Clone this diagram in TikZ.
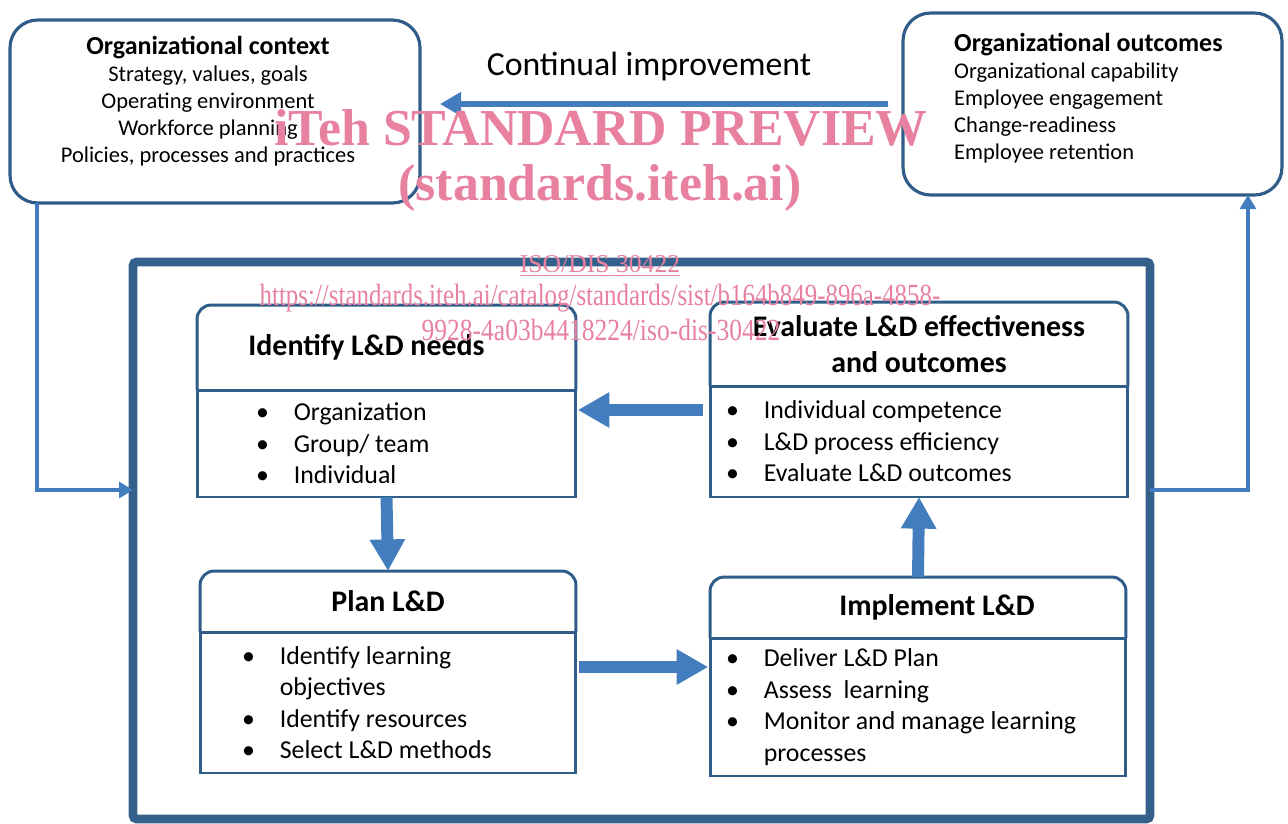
\documentclass[tikz,border=0pt]{standalone}
\usepackage{fontspec}
\setmainfont{Carlito}
\newfontfamily\wmfont{Liberation Serif}
\usetikzlibrary{arrows.meta,positioning,calc}
\definecolor{frameblue}{RGB}{52,96,140}
\definecolor{boxblue}{RGB}{47,92,137}
\definecolor{arrowblue}{RGB}{68,125,190}
\definecolor{wmpink}{RGB}{232,128,160}
\newcommand{\bul}{\makebox[21.5pt][l]{\textbullet}}
\newcommand{\ind}{\hspace*{21.5pt}}

\begin{document}
\begin{tikzpicture}[x=0.02cm,y=-0.02cm,
  topbox/.style={draw=boxblue,line width=1.8pt,rounded corners=0.55cm,outer sep=0pt},
  head/.style={outer sep=0pt,inner sep=0pt,align=center,
    font=\fontsize{17}{20.4}\selectfont\bfseries},
  headline/.style={boxblue,line width=1.7pt,rounded corners=8pt},
  body/.style={draw=boxblue,line width=1.7pt,outer sep=0pt,inner ysep=2pt,
    align=flush left,font=\fontsize{14.7}{17.9}\selectfont},
  flow/.style={arrowblue,line width=6.8pt,-{Triangle[length=18pt,width=19pt]}},
  link/.style={arrowblue,line width=2.3pt,-{Triangle[length=8pt,width=9pt]}},
  wm/.style={text=wmpink,inner sep=0pt}]
\useasboundingbox (0,0) rectangle (1288,823);

\node[draw=frameblue,line width=5pt,rounded corners=2pt,outer sep=0pt,
  minimum width=20.34cm,minimum height=11.14cm] (lnd) at (641.5,540.5) {};

\node[topbox,minimum width=8.2cm,minimum height=3.66cm] (ctx) at (215,111.5) {};
\node[align=center,font=\fontsize{12.8}{15.3}\selectfont] (ctxtext) at (208,101) {
{\fontsize{14.8}{15.3}\selectfont\bfseries Organizational context}\\
Strategy, values, goals\\
Operating environment\\
Workforce planning\\
Policies, processes and practices
};

\node[topbox,minimum width=7.58cm,minimum height=3.64cm] (oc) at (1092.5,104) {};
\node[align=left,anchor=west,font=\fontsize{12.8}{15.3}\selectfont] (octext) at (948,98) {
{\fontsize{14.8}{15.3}\selectfont\bfseries Organizational outcomes}\\
Organizational capability\\
Employee engagement\\
Change-readiness\\
Employee retention
};

\node[font=\fontsize{19.2}{22}\selectfont] (ci) at (649,66) {Continual improvement};

\node[body,text width=5.22cm,inner xsep=1.18cm,minimum height=2.14cm] (idb) at (386.5,443.5) {
\bul Organization\\
\bul Group/ team\\
\bul Individual
};
\node[head,minimum width=7.58cm,minimum height=1.7cm,above=0pt of idb] (idh) {Identify L\&D needs\hspace*{0.8cm}};

\node[body,text width=7.72cm,inner xsep=0.32cm,minimum height=2.22cm] (evb) at (919,441.5) {
\bul Individual competence\\
\bul L\&D process efficiency\\
\bul Evaluate L\&D outcomes
};
\node[head,minimum width=8.36cm,minimum height=1.68cm,above=0pt of evb] (evh) {Evaluate L\&D effectiveness\\and outcomes};

\node[body,text width=5.84cm,inner xsep=0.84cm,minimum height=2.82cm] (plb) at (388,702.5) {
\bul Identify learning\\
\ind objectives\\
\bul Identify resources\\
\bul Select L\&D methods
};
\node[head,minimum width=7.52cm,minimum height=1.22cm,above=0pt of plb] (plh) {Plan L\&D};

\node[body,text width=7.68cm,inner xsep=0.32cm,minimum height=2.76cm] (imb) at (918,707) {
\bul Deliver L\&D Plan\\
\bul Assess\ \ learning\\
\bul Monitor and manage learning\\
\ind processes
};
\node[head,minimum width=8.32cm,minimum height=1.22cm,above=0pt of imb] (imh) {\hspace*{0.76cm}Implement L\&D};

\foreach \h in {idh,evh,plh,imh}
  \draw[headline] (\h.south west) |- (\h.north east) -- (\h.south east);

\draw[flow] ([yshift=0.63cm,xshift=-4pt]evb.west) -- ([yshift=0.63cm,xshift=1pt]evb.west -| idb.east);
\draw[flow] (idb.south) -- (plh.north);
\draw[flow] ([yshift=0.71cm,xshift=2pt]plb.east) -- ([yshift=0.71cm,xshift=-1pt]plb.east -| imb.west);
\draw[flow] (imh.north) -- (evb.south);

\draw[arrowblue,line width=3.6pt,-{Triangle[length=12pt,width=13pt]}]
  ([xshift=-0.3cm]oc.west) -- ([xshift=0.4cm]ctx.east |- oc.west);
\draw[link] ([xshift=0.54cm]ctx.south west) |- ([yshift=1.01cm]lnd.west);
\draw[link] ([yshift=1.01cm]lnd.east) -| ([xshift=3.11cm]oc.south);

\node[wm,font=\wmfont\bfseries\fontsize{29.5}{30}\selectfont] (wm1) at (601,128) {iTeh STANDARD PREVIEW};
\node[wm,font=\wmfont\bfseries\fontsize{29.5}{30}\selectfont] (wm2) at (600,188) {(standards.iteh.ai)};
\node[wm,font=\wmfont\fontsize{14.6}{15}\selectfont] (wm3) at (600,266) {\underline{ISO/DIS 30422}};
\node[wm,font=\wmfont\fontsize{17.5}{17}\selectfont] (wm4) at (600,298)
  {\scalebox{0.81}[1]{https://standards.iteh.ai/catalog/standards/sist/b164b849-896a-4858-}};
\node[wm,font=\wmfont\fontsize{17.5}{17}\selectfont] (wm5) at (601,330)
  {\scalebox{0.83}[1]{9928-4a03b4418224/iso-dis-30422}};
\end{tikzpicture}
\end{document}
